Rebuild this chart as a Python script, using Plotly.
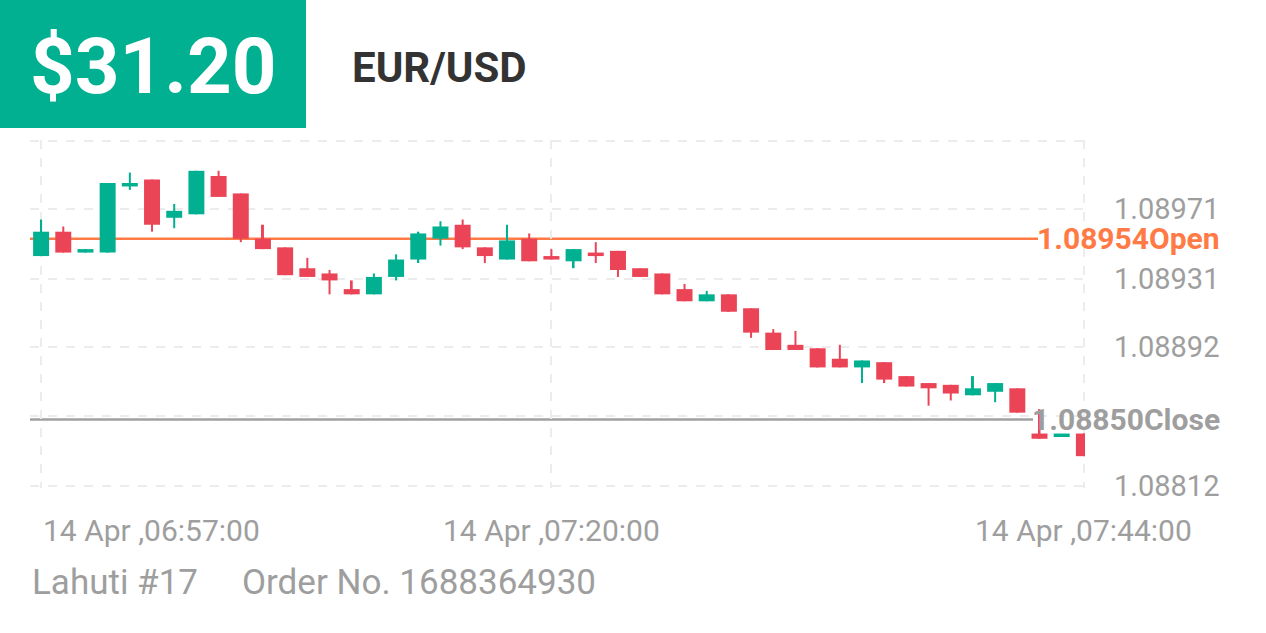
import pandas as pd
import plotly.graph_objects as go

# one-minute candles, prices in 1e-5 units
open_ = [108944, 108958, 108946, 108946, 108984, 108988, 108966, 108968, 108990, 108980,
         108954, 108949, 108937, 108934, 108925, 108922, 108932, 108942, 108954, 108962,
         108949, 108942, 108954, 108944, 108941, 108946, 108947, 108937, 108934, 108925,
         108918, 108922, 108914, 108900, 108893, 108891, 108885, 108880, 108883, 108875,
         108871, 108870, 108864, 108866, 108868, 108842, 108840, 108842]
high = [108965, 108961, 108948, 108986, 108992, 108988, 108974, 108993, 108993, 108980,
        108962, 108949, 108943, 108936, 108930, 108934, 108945, 108958, 108964, 108965,
        108949, 108962, 108957, 108948, 108948, 108952, 108947, 108937, 108934, 108928,
        108924, 108922, 108914, 108902, 108901, 108891, 108893, 108884, 108883, 108875,
        108871, 108870, 108875, 108871, 108868, 108856, 108840, 108842]
low = [108944, 108946, 108946, 108946, 108982, 108958, 108960, 108968, 108978, 108952,
       108948, 108933, 108932, 108922, 108922, 108922, 108930, 108940, 108950, 108948,
       108940, 108942, 108941, 108942, 108937, 108940, 108932, 108932, 108922, 108918,
       108918, 108912, 108897, 108890, 108890, 108880, 108880, 108871, 108871, 108869,
       108858, 108861, 108864, 108860, 108854, 108839, 108840, 108829]
close = [108958, 108946, 108948, 108986, 108986, 108962, 108970, 108993, 108978, 108954,
         108948, 108933, 108932, 108930, 108922, 108932, 108942, 108957, 108961, 108949,
         108944, 108953, 108941, 108942, 108948, 108944, 108936, 108932, 108922, 108918,
         108922, 108912, 108900, 108890, 108890, 108880, 108880, 108884, 108873, 108869,
         108868, 108865, 108868, 108871, 108854, 108839, 108842, 108829]

times = pd.date_range('2024-04-14 06:57:00', periods=len(open_), freq='1min')
tick_idx = [0, 23, 47]
y_ticks = [1.08812, 1.08852, 1.08892, 1.08931, 1.08971, 1.09010]
y_labels = ['1.08812', '', '1.08892', '1.08931', '1.08971', '']
open_price = 1.08954
close_price = 1.08850
pnl = '$31.20'
symbol = 'EUR/USD'

GREEN = '#00b090'
RED = '#ea4456'
GREY = '#9e9e9e'

df = pd.DataFrame({'o': open_, 'h': high, 'l': low, 'c': close}) / 1e5
df['x'] = range(len(df))
df['up'] = df['c'] >= df['o']

fig = go.Figure()
for up, color in [(True, GREEN), (False, RED)]:
    d = df[df['up'] == up]
    body_lo = d[['o', 'c']].min(axis=1)
    body_h = (d['o'] - d['c']).abs().clip(lower=0.000012)
    # wicks
    fig.add_trace(go.Bar(x=d['x'], base=d['l'], y=d['h'] - d['l'], width=0.09,
                         marker=dict(color=color, line_width=0), showlegend=False, hoverinfo='skip'))
    # bodies
    fig.add_trace(go.Bar(x=d['x'], base=body_lo, y=body_h, width=0.72,
                         marker=dict(color=color, line_width=0), showlegend=False, hoverinfo='skip'))

# open / close lines stop where their labels begin
fig.add_shape(type='line', xref='paper', yref='y', x0=0, x1=1008 / 1055, y0=open_price, y1=open_price,
              line=dict(color='#ff7a45', width=2.5), layer='below')
fig.add_shape(type='line', xref='paper', yref='y', x0=0, x1=1003 / 1055, y0=close_price, y1=close_price,
              line=dict(color='#a0a0a0', width=2.5), layer='below')

fig.add_annotation(xref='paper', yref='y', x=1.0, y=close_price, text='<b>1.08850Close</b>',
                   xanchor='right', yanchor='middle', showarrow=False, xshift=137,
                   font=dict(size=30, color=GREY, family='Roboto'))
fig.add_annotation(xref='paper', yref='y', x=1.0, y=open_price, text='<b>1.08954Open</b>',
                   xanchor='right', yanchor='middle', showarrow=False, xshift=137,
                   font=dict(size=30, color='#ff7a45', family='Roboto'))

anchors = ['left', 'center', 'center']
for i, a in zip(tick_idx, anchors):
    fig.add_annotation(xref='x', yref='paper', x=i, y=0, yshift=-42, showarrow=False,
                       text=times[i].strftime('%d %b ,%H:%M:%S'), xanchor=a, yanchor='middle',
                       font=dict(size=30, color=GREY, family='Roboto'))

# header
fig.add_shape(type='rect', xref='paper', yref='paper', x0=-30 / 1055, x1=276 / 1055,
              y0=1 + 12 / 348, y1=1 + 140 / 348, fillcolor=GREEN, line_width=0, layer='below')
fig.add_annotation(xref='paper', yref='paper', x=123 / 1055, y=1 + 74 / 348, text='<b>' + pnl + '</b>',
                   xanchor='center', yanchor='middle', showarrow=False,
                   font=dict(size=78, color='white', family='Roboto'))
fig.add_annotation(xref='paper', yref='paper', x=320 / 1055, y=1 + 73 / 348, text='<b>' + symbol + '</b>',
                   xanchor='left', yanchor='middle', showarrow=False,
                   font=dict(size=42, color='#333333', family='Roboto'))
fig.add_annotation(xref='paper', yref='paper', x=0, y=-94 / 348, text='Lahuti #17',
                   xanchor='left', yanchor='middle', showarrow=False,
                   font=dict(size=35, color=GREY, family='Roboto'))
fig.add_annotation(xref='paper', yref='paper', x=210 / 1055, y=-94 / 348, text='Order No. 1688364930',
                   xanchor='left', yanchor='middle', showarrow=False,
                   font=dict(size=35, color=GREY, family='Roboto'))

fig.update_layout(
    width=1266, height=633, margin=dict(l=30, r=181, t=140, b=145),
    paper_bgcolor='white', plot_bgcolor='white', barmode='overlay',
    font=dict(family='Roboto'),
    xaxis=dict(range=[-0.5, 47.05], tickvals=tick_idx,
               showticklabels=False, showgrid=True, griddash='dash', gridcolor='#ececec',
               gridwidth=2, zeroline=False),
    yaxis=dict(range=[1.088107, 1.090107], side='right', tickvals=y_ticks, ticktext=y_labels,
               showgrid=True, griddash='dash', gridcolor='#ececec', gridwidth=2,
               ticklabelstandoff=28, tickfont=dict(size=29, color=GREY), zeroline=False),
)

fig.write_html('out.html', config={'displayModeBar': False},
               post_script="document.body.style.margin='0';")
